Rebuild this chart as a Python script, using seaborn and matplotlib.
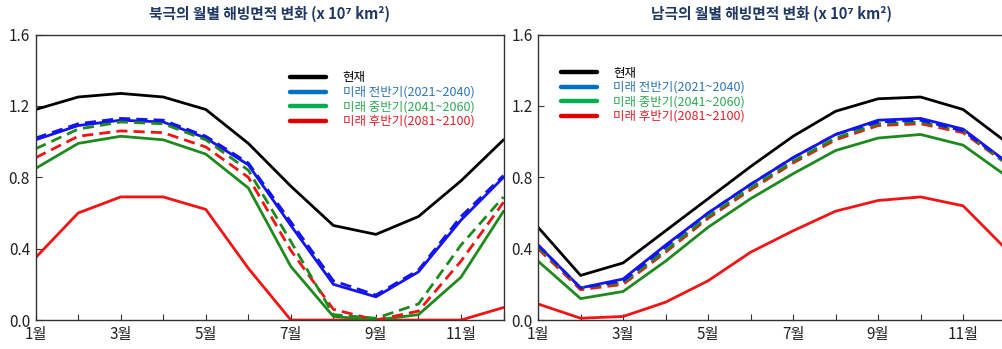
import numpy as np
import pandas as pd
import matplotlib
matplotlib.use("Agg")
import matplotlib.pyplot as plt
from matplotlib.lines import Line2D
import seaborn as sns

months = list(range(1, 13))
month_labels = ["1월", "", "3월", "", "5월", "", "7월", "", "9월", "", "11월", ""]
yticks = [0.0, 0.4, 0.8, 1.2, 1.6]

titles = ["북극의 월별 해빙면적 변화 (x 10⁷ km²)", "남극의 월별 해빙면적 변화 (x 10⁷ km²)"]
legend_labels = ["현재", "미래 전반기(2021~2040)", "미래 중반기(2041~2060)", "미래 후반기(2081~2100)"]

# Arctic (x 10^7 km^2)
arctic_present = [1.18, 1.25, 1.27, 1.25, 1.18, 0.99, 0.75, 0.53, 0.48, 0.58, 0.78, 1.01]
arctic_early = [1.01, 1.09, 1.12, 1.11, 1.02, 0.87, 0.53, 0.20, 0.13, 0.27, 0.56, 0.80]
arctic_early_b = [1.02, 1.10, 1.13, 1.12, 1.03, 0.88, 0.55, 0.22, 0.14, 0.28, 0.58, 0.81]
arctic_mid = [0.85, 0.99, 1.03, 1.01, 0.93, 0.74, 0.30, 0.02, 0.00, 0.03, 0.24, 0.61]
arctic_mid_b = [0.96, 1.07, 1.11, 1.10, 1.01, 0.84, 0.44, 0.03, 0.01, 0.09, 0.42, 0.69]
arctic_late = [0.35, 0.60, 0.69, 0.69, 0.62, 0.29, 0.00, np.nan, np.nan, 0.00, 0.00, 0.07]
arctic_late_b = [0.91, 1.03, 1.06, 1.05, 0.97, 0.80, 0.39, 0.06, 0.00, 0.05, 0.33, 0.66]

# Antarctic (x 10^7 km^2)
antarctic_present = [0.52, 0.25, 0.32, 0.50, 0.68, 0.86, 1.03, 1.17, 1.24, 1.25, 1.18, 1.00]
antarctic_early = [0.42, 0.18, 0.23, 0.42, 0.60, 0.76, 0.91, 1.04, 1.12, 1.13, 1.07, 0.89]
antarctic_early_b = [0.42, 0.18, 0.22, 0.41, 0.60, 0.76, 0.91, 1.04, 1.11, 1.12, 1.06, 0.89]
antarctic_mid = [0.33, 0.12, 0.16, 0.33, 0.52, 0.68, 0.82, 0.95, 1.02, 1.04, 0.98, 0.81]
antarctic_mid_b = [0.41, 0.18, 0.21, 0.39, 0.58, 0.74, 0.89, 1.02, 1.10, 1.11, 1.06, 0.88]
antarctic_late = [0.09, 0.01, 0.02, 0.10, 0.22, 0.38, 0.50, 0.61, 0.67, 0.69, 0.64, 0.40]
antarctic_late_b = [0.40, 0.17, 0.20, 0.38, 0.57, 0.73, 0.88, 1.01, 1.09, 1.10, 1.05, 0.88]

sns.set_theme(style="ticks")
plt.rcParams["font.family"] = ["Noto Sans CJK KR", "DejaVu Sans"]
plt.rcParams["axes.unicode_minus"] = False

line_colors = {"present": "#000000", "early": "#1414F0", "mid": "#1E8A1E", "late": "#F01414"}
legend_colors = ["#000000", "#0070C0", "#00B050", "#E00000"]
text_colors = ["#000000", "#2E75B6", "#2EA855", "#E0202A"]

fig = plt.figure(figsize=(10.02, 3.49), dpi=100)
ax_l = fig.add_axes([0.0356, 0.083, 0.4669, 0.818])
ax_r = fig.add_axes([0.537, 0.083, 0.4666, 0.818])

panels = [
    (ax_l, [("present", arctic_present, "-"), ("late", arctic_late, "-"),
            ("mid", arctic_mid, "-"), ("early", arctic_early, "-"),
            ("late", arctic_late_b, "--"), ("mid", arctic_mid_b, "--"),
            ("early", arctic_early_b, "--")]),
    (ax_r, [("present", antarctic_present, "-"), ("late", antarctic_late, "-"),
            ("mid", antarctic_mid, "-"), ("early", antarctic_early, "-"),
            ("late", antarctic_late_b, "--"), ("mid", antarctic_mid_b, "--"),
            ("early", antarctic_early_b, "--")]),
]

for (ax, series), title in zip(panels, titles):
    for key, vals, ls in series:
        df = pd.DataFrame({"month": months, "extent": vals})
        sns.lineplot(data=df, x="month", y="extent", ax=ax, color=line_colors[key],
                     linewidth=2.0, linestyle=ls, legend=False)
        if ls == "--":
            ax.lines[-1].set_dashes((4, 2.2))
    ax.set_xlim(1, 12)
    ax.set_ylim(0, 1.6)
    ax.set_xticks(months)
    ax.set_xticklabels(month_labels, fontsize=11)
    ax.set_yticks(yticks)
    ax.set_yticklabels([f"{v:.1f}" for v in yticks], fontsize=11)
    ax.tick_params(direction="in", length=4, width=0.8, colors="#333333", pad=4)
    ax.set_xlabel("")
    ax.set_ylabel("")
    for sp in ax.spines.values():
        sp.set_visible(True)
        sp.set_color("#333333")
        sp.set_linewidth(1.0)
    ax.set_title(title, fontsize=10.6, fontweight="bold", color="#1F3864", pad=11)
    for lbl in ax.get_xticklabels() + ax.get_yticklabels():
        lbl.set_color("#222222")

handles = [Line2D([0], [0], color=c, lw=3.2) for c in legend_colors]
for ax, anchor in [(ax_l, (0.544, 0.871)), (ax_r, (0.048, 0.888))]:
    leg = ax.legend(handles, legend_labels, loc="upper left", bbox_to_anchor=anchor,
                    frameon=False, fontsize=9, handlelength=2.9, handletextpad=1.3,
                    labelspacing=0.12, borderaxespad=0, borderpad=0)
    for t, c in zip(leg.get_texts(), text_colors):
        t.set_color(c)

fig.savefig("out.png", dpi=100, facecolor="white")
